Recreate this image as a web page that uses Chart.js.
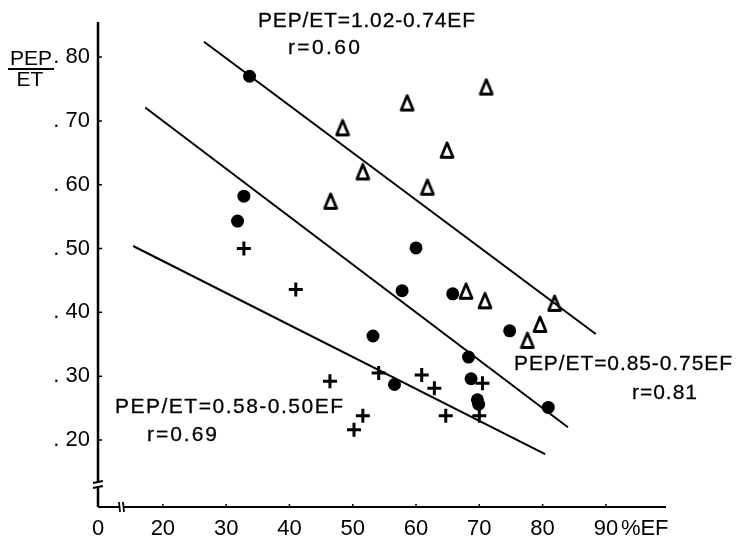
<!DOCTYPE html>
<html>
<head>
<meta charset="utf-8">
<script src="https://cdn.jsdelivr.net/npm/chart.js@4.4.0/dist/chart.umd.min.js"></script>
<style>
  body { margin: 0; background: #fff; }
  #wrap { width: 736px; height: 542px; }
</style>
</head>
<body>
<div id="wrap"><canvas id="chart"></canvas></div>
<script>
// axis range (the "0" sits at the broken origin)
const xMin = 9.75, xMax = 99.5;
const yMin = 0.095, yMax = 0.855;
const xTicks = [20, 30, 40, 50, 60, 70, 80, 90];
const yTicks = [0.2, 0.3, 0.4, 0.5, 0.6, 0.7, 0.8];

// filled circles
const circleEF    = [33.7, 32.8, 31.8, 60.0, 57.8, 65.8, 53.2, 74.8, 68.3, 68.7, 56.6, 69.7, 69.9, 80.9];
const circleRatio = [0.770, 0.582, 0.543, 0.501, 0.434, 0.429, 0.363, 0.371, 0.330, 0.296, 0.287, 0.263, 0.256, 0.251];

// open triangles
const triEF    = [48.4, 46.5, 51.6, 58.6, 71.1, 64.9, 61.8, 67.9, 70.9, 79.6, 77.6, 81.9];
const triRatio = [0.689, 0.574, 0.620, 0.728, 0.753, 0.654, 0.596, 0.433, 0.418, 0.381, 0.356, 0.414];

// crosses
const plusEF    = [32.8, 41.0, 46.4, 50.2, 51.6, 54.1, 60.9, 62.9, 70.5, 64.7, 70.0];
const plusRatio = [0.500, 0.436, 0.292, 0.216, 0.238, 0.305, 0.302, 0.281, 0.289, 0.238, 0.238];

// regression lines (end points)
const lineAEF = [26.5, 88.4], lineARatio = [0.824, 0.366];   // 1.02-0.74EF
const lineBEF = [17.2, 84.0], lineBRatio = [0.721, 0.220];   // 0.85-0.75EF
const lineCEF = [15.3, 80.4], lineCRatio = [0.504, 0.178];   // 0.58-0.50EF

function pts(xs, ys) {
    return xs.map((x, i) => ({ x: x, y: ys[i] }));
}

// delta marker
const tri = document.createElement('canvas');
tri.width = 16; tri.height = 19;
(function () {
    const c = tri.getContext('2d');
    c.strokeStyle = '#000';
    c.lineWidth = 2.8;
    c.lineJoin = 'round';
    c.beginPath();
    c.moveTo(8, 2);
    c.lineTo(14, 16.5);
    c.lineTo(2, 16.5);
    c.closePath();
    c.stroke();
})();

const FONT = '"Liberation Sans", Arial, sans-serif';

function fitText(ctx, text, left, midY, width, size) {
    ctx.font = size + 'px ' + FONT;
    ctx.letterSpacing = '0px';
    const w = ctx.measureText(text).width;
    const sp = (width - w) / (text.length - 1);
    ctx.letterSpacing = sp.toFixed(2) + 'px';
    ctx.textAlign = 'left';
    ctx.textBaseline = 'middle';
    ctx.lineWidth = 0.3;
    ctx.fillText(text, left, midY);
    ctx.strokeText(text, left, midY);
    ctx.letterSpacing = '0px';
}

const decorations = {
    id: 'decorations',
    afterDraw(chart) {
        const ctx = chart.ctx;
        const xs = chart.scales.x, ys = chart.scales.y;
        const L = chart.chartArea.left, R = chart.chartArea.right;
        const T = chart.chartArea.top, B = chart.chartArea.bottom;
        ctx.save();
        ctx.strokeStyle = '#000';
        ctx.fillStyle = '#000';

        // y axis with break
        ctx.lineWidth = 2.5;
        ctx.beginPath();
        ctx.moveTo(L, T); ctx.lineTo(L, B - 25);
        ctx.moveTo(L, B - 19); ctx.lineTo(L, B);
        ctx.stroke();
        ctx.lineWidth = 1.8;
        ctx.beginPath();
        ctx.moveTo(L - 5, B - 24); ctx.lineTo(L + 5, B - 26);
        ctx.moveTo(L - 5, B - 19); ctx.lineTo(L + 5, B - 21);
        ctx.stroke();

        // x axis with break
        ctx.lineWidth = 2.2;
        ctx.beginPath();
        ctx.moveTo(L, B); ctx.lineTo(L + 21, B);
        ctx.moveTo(L + 26, B); ctx.lineTo(R, B);
        ctx.stroke();
        ctx.lineWidth = 1.8;
        ctx.beginPath();
        ctx.moveTo(L + 21, B - 5); ctx.lineTo(L + 22, B + 5);
        ctx.moveTo(L + 25, B - 5); ctx.lineTo(L + 26, B + 5);
        ctx.stroke();

        // small inward ticks
        ctx.lineWidth = 1.5;
        ctx.beginPath();
        yTicks.forEach(v => {
            const p = ys.getPixelForValue(v);
            ctx.moveTo(L, p); ctx.lineTo(L + 4, p);
        });
        xTicks.forEach(v => {
            const p = xs.getPixelForValue(v);
            ctx.moveTo(p, B); ctx.lineTo(p, B - 3);
        });
        ctx.stroke();

        // axis titles
        ctx.font = '22px ' + FONT;
        ctx.textBaseline = 'middle';
        ctx.textAlign = 'left';
        ctx.fillText('%EF', xs.getPixelForValue(90) + 15, 529);

        ctx.font = '21px ' + FONT;
        ctx.textAlign = 'center';
        ctx.fillText('PEP', 31, 59);
        ctx.fillText('ET', 30, 80);
        ctx.lineWidth = 2;
        ctx.beginPath();
        ctx.moveTo(8, 69); ctx.lineTo(54, 69);
        ctx.stroke();

        // regression labels
        fitText(ctx, 'PEP/ET=1.02-0.74EF', 258, 21, 217, 21);
        fitText(ctx, 'r=0.60', 288, 48, 72, 21);
        fitText(ctx, 'PEP/ET=0.85-0.75EF', 514, 364, 218, 21);
        fitText(ctx, 'r=0.81', 632, 393, 65, 21);
        fitText(ctx, 'PEP/ET=0.58-0.50EF', 115, 407, 228, 21);
        fitText(ctx, 'r=0.69', 147, 435, 70, 21);
        ctx.restore();
    }
};

const lineStyle = {
    showLine: true, borderColor: '#000', borderWidth: 2,
    pointRadius: 0, fill: false
};

new Chart(document.getElementById('chart'), {
    type: 'scatter',
    data: {
        datasets: [
            Object.assign({ data: pts(lineAEF, lineARatio) }, lineStyle),
            Object.assign({ data: pts(lineBEF, lineBRatio) }, lineStyle),
            Object.assign({ data: pts(lineCEF, lineCRatio) }, lineStyle),
            {
                data: pts(circleEF, circleRatio),
                pointStyle: 'circle', pointRadius: 6.5,
                backgroundColor: '#000', borderColor: '#000', borderWidth: 0
            },
            {
                data: pts(triEF, triRatio),
                pointStyle: tri
            },
            {
                data: pts(plusEF, plusRatio),
                pointStyle: 'cross', pointRadius: 7,
                borderColor: '#000', borderWidth: 3
            }
        ]
    },
    options: {
        responsive: true,
        maintainAspectRatio: false,
        animation: false,
        events: [],
        layout: { padding: { left: 0, right: 70, top: 22, bottom: 0 } },
        plugins: { legend: { display: false }, tooltip: { enabled: false } },
        scales: {
            x: {
                type: 'linear', min: xMin, max: xMax,
                grid: { display: false, drawTicks: false },
                border: { display: false },
                afterBuildTicks: s => { s.ticks = [xMin].concat(xTicks).map(v => ({ value: v })); },
                afterFit: s => { s.height = 35; },
                ticks: {
                    autoSkip: false, maxRotation: 0, padding: 9,
                    color: '#000', font: { family: FONT, size: 22 },
                    callback: v => v === xMin ? '0' : String(v)
                }
            },
            y: {
                type: 'linear', min: yMin, max: yMax,
                grid: { display: false, drawTicks: false },
                border: { display: false },
                afterBuildTicks: s => { s.ticks = yTicks.map(v => ({ value: v })); },
                afterFit: s => { s.width = 98; },
                ticks: {
                    autoSkip: false, padding: 8,
                    color: '#000', font: { family: FONT, size: 22 },
                    callback: v => '. ' + Math.round(v * 100)
                }
            }
        }
    },
    plugins: [decorations]
});
</script>
</body>
</html>
